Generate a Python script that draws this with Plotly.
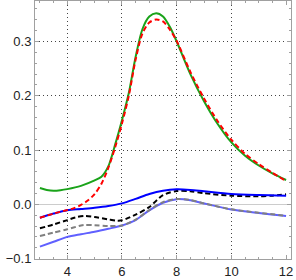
import plotly.graph_objects as go

# ---- data ----
green_x = [3.0, 3.25, 3.5, 3.75, 4.0, 4.5, 5.0, 5.25, 5.5, 5.75, 6.0, 6.25, 6.5, 6.75, 7.0, 7.25, 7.5, 7.75, 8.0, 8.5, 9.0, 9.5, 10.0, 10.5, 11.0, 11.5, 12.0]
green_y = [0.030, 0.0265, 0.025, 0.026, 0.028, 0.034, 0.044, 0.051, 0.070, 0.110, 0.155, 0.205, 0.272, 0.323, 0.346, 0.352, 0.346, 0.327, 0.300, 0.240, 0.190, 0.148, 0.114, 0.0895, 0.0715, 0.057, 0.0448]

red_x = [3.0, 3.5, 4.0, 4.25, 4.5, 4.75, 5.0, 5.25, 5.5, 5.75, 6.0, 6.25, 6.5, 6.75, 7.0, 7.25, 7.5, 7.75, 8.0, 8.5, 9.0, 9.5, 10.0, 10.5, 11.0, 11.5, 12.0]
red_y = [-0.0246, -0.017, -0.0105, -0.007, -0.001, 0.007, 0.019, 0.038, 0.067, 0.105, 0.149, 0.200, 0.267, 0.315, 0.335, 0.3405, 0.337, 0.322, 0.301, 0.244, 0.195, 0.153, 0.119, 0.093, 0.074, 0.058, 0.043]

blue_x = [3.0, 3.5, 4.0, 4.5, 5.0, 5.5, 6.0, 6.5, 7.0, 7.5, 8.0, 8.5, 9.0, 10.0, 11.0, 12.0]
blue_y = [-0.0246, -0.017, -0.0108, -0.0085, -0.0062, -0.003, 0.0018, 0.010, 0.019, 0.025, 0.0276, 0.0265, 0.024, 0.019, 0.017, 0.016]

black_x = [3.0, 3.5, 4.0, 4.3, 4.65, 5.0, 5.5, 5.8, 6.0, 6.5, 7.0, 7.5, 8.0, 8.5, 9.0, 10.0, 11.0, 11.5, 12.0]
black_y = [-0.0442, -0.037, -0.029, -0.024, -0.0215, -0.0234, -0.0277, -0.030, -0.0295, -0.019, -0.005, 0.017, 0.0245, 0.024, 0.0205, 0.016, 0.0147, 0.016, 0.0184]

gray_x = [3.0, 3.5, 4.0, 4.5, 4.65, 5.0, 5.5, 6.0, 6.5, 7.0, 7.5, 8.0, 8.5, 9.0, 10.0, 11.0, 12.0]
gray_y = [-0.0584, -0.052, -0.046, -0.039, -0.038, -0.0385, -0.040, -0.039, -0.028, -0.0105, 0.004, 0.0098, 0.008, 0.0018, -0.0092, -0.0155, -0.021]

lblue_x = [3.0, 3.5, 4.0, 4.5, 5.0, 5.5, 6.0, 6.5, 7.0, 7.5, 8.0, 8.5, 9.0, 10.0, 11.0, 12.0]
lblue_y = [-0.078, -0.069, -0.060, -0.055, -0.0505, -0.045, -0.039, -0.029, -0.011, 0.003, 0.0095, 0.0075, 0.0015, -0.0095, -0.016, -0.0215]

x_grid = [4, 6, 8, 10]
y_grid = [0.1, 0.2, 0.3]
x_range = [2.82, 12.18]
y_range = [-0.1007, 0.3746]

fig = go.Figure()

def add(x, y, color, dash=None):
    fig.add_trace(go.Scatter(x=x, y=y, mode="lines",
                             line=dict(color=color, width=2, shape="spline", smoothing=0.8,
                                       dash=dash if dash else "solid"),
                             hoverinfo="skip", showlegend=False))

add(lblue_x, lblue_y, "#6060ff")
add(gray_x, gray_y, "#808080", "5px,3px")
add(black_x, black_y, "#000000", "5px,3px")
add(blue_x, blue_y, "#0000ff")
add(green_x, green_y, "#1aa31a")
add(red_x, red_y, "#ff0000", "5px,3px")

# invisible trace for overlay grid axes
fig.add_trace(go.Scatter(x=[], y=[], xaxis="x2", yaxis="y2", showlegend=False, hoverinfo="skip"))

frame = "#a0a0a0"
font = dict(family="Liberation Sans, Arial, sans-serif", size=13, color="#222222")

fig.update_layout(
    width=296, height=280,
    margin=dict(l=35, r=5, t=1, b=21),
    paper_bgcolor="white", plot_bgcolor="white",
    font=font,
    xaxis=dict(range=x_range, tickmode="linear", tick0=0, dtick=2,
               ticks="inside", ticklen=4, tickcolor=frame, tickwidth=1,
               showline=True, linecolor=frame, linewidth=1, mirror="ticks",
               showgrid=False, zeroline=False,
               minor=dict(tick0=0, dtick=0.5, ticks="inside", ticklen=2, tickcolor=frame, showgrid=False),
               tickfont=font),
    yaxis=dict(range=y_range, tickmode="linear", tick0=0, dtick=0.1, tickformat=".1f",
               ticks="inside", ticklen=4, tickcolor=frame, tickwidth=1,
               showline=True, linecolor=frame, linewidth=1, mirror="ticks",
               showgrid=False, zeroline=True, zerolinecolor="#cccccc", zerolinewidth=1,
               minor=dict(tick0=0, dtick=0.02, ticks="inside", ticklen=2, tickcolor=frame, showgrid=False),
               tickfont=font),
    xaxis2=dict(range=x_range, overlaying="x", anchor="y", tickmode="array", tickvals=x_grid,
                showticklabels=False, ticks="", showline=False, zeroline=False,
                showgrid=True, gridcolor="#444444", gridwidth=1, griddash="1px,3px"),
    yaxis2=dict(range=y_range, overlaying="y", anchor="x", tickmode="array", tickvals=y_grid,
                showticklabels=False, ticks="", showline=False, zeroline=False,
                showgrid=True, gridcolor="#444444", gridwidth=1, griddash="1px,3px"),
)

fig.write_html("out.html", config={"displayModeBar": False},
               post_script="document.body.style.margin='0';document.body.style.padding='0';")
